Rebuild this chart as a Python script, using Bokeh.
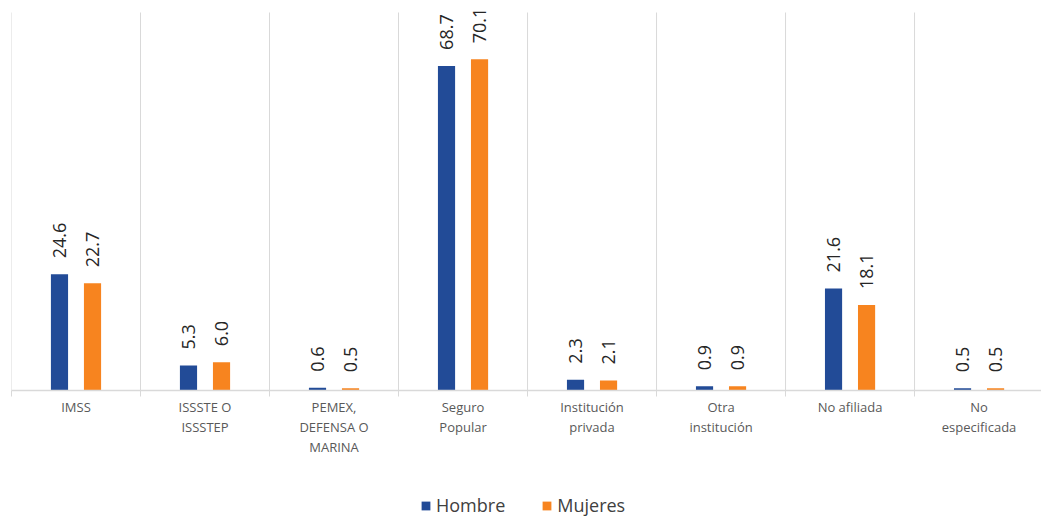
from math import pi
from bokeh.plotting import figure
from bokeh.layouts import column
from bokeh.models import ColumnDataSource, FixedTicker, Range1d, Legend, LegendItem
from bokeh.core.properties import value
from bokeh.embed import file_html
from bokeh.resources import INLINE

categories = ["IMSS", "ISSSTE O\nISSSTEP", "PEMEX,\nDEFENSA O\nMARINA", "Seguro\nPopular",
              "Institución\nprivada", "Otra\ninstitución", "No afiliada", "No\nespecificada"]
hombre = [24.6, 5.3, 0.6, 68.7, 2.3, 0.9, 21.6, 0.5]
mujeres = [22.7, 6.0, 0.5, 70.1, 2.1, 0.9, 18.1, 0.5]
series_names = ["Hombre", "Mujeres"]

BLUE = "#224B97"
ORANGE = "#F7841F"
GRID = "#D9D9D9"
FONT = "Open Sans"

n = len(categories)
centers = [i + 0.5 for i in range(n)]
bounds = list(range(n + 1))
off = 0.128
bw = 0.133
AXIS_MAX = 80

p = figure(frame_width=1030, frame_height=390, output_backend="svg", toolbar_location=None,
           x_range=Range1d(0, 7.984), y_range=Range1d(0, AXIS_MAX * 390 / 378),
           min_border_left=11, min_border_right=0, min_border_top=0, min_border_bottom=0)
p.outline_line_color = None
p.background_fill_color = "white"
p.border_fill_color = "white"

# vertical category separators (gridlines) up to the axis maximum
p.segment(x0=bounds, y0=[0] * len(bounds), x1=bounds, y1=[AXIS_MAX] * len(bounds),
          line_color=GRID, line_width=1)

src_h = ColumnDataSource(dict(x=[c - off for c in centers], y=hombre,
                              t=[f"{v:.1f}" for v in hombre]))
src_m = ColumnDataSource(dict(x=[c + off for c in centers], y=mujeres,
                              t=[f"{v:.1f}" for v in mujeres]))

rh = p.vbar(x="x", top="y", width=bw, bottom=0, source=src_h, fill_color=BLUE, line_color=None)
rm = p.vbar(x="x", top="y", width=bw, bottom=0, source=src_m, fill_color=ORANGE, line_color=None)

for src in (src_h, src_m):
    p.text(x="x", y="y", text="t", source=src, angle=pi / 2, text_align="left",
           text_baseline="middle", y_offset=-16, text_font=value(FONT),
           text_font_size="18px", text_color="#262626")

p.yaxis.visible = False
p.ygrid.visible = False
p.xgrid.visible = False

ax = p.xaxis[0]
ax.ticker = FixedTicker(ticks=centers, minor_ticks=bounds)
ax.major_label_overrides = {c: lab for c, lab in zip(centers, categories)}
ax.axis_line_color = GRID
ax.axis_line_width = 1.5
ax.major_tick_line_color = None
ax.major_tick_out = 0
ax.major_tick_in = 0
ax.minor_tick_line_color = GRID
ax.minor_tick_out = 6
ax.minor_tick_in = 0
ax.major_label_standoff = 1
ax.major_label_text_font = FONT
ax.major_label_text_font_size = "13px"
ax.major_label_text_color = "#595959"
ax.major_label_text_line_height = 1.13

# legend figure
lg = figure(frame_width=1041, frame_height=58, output_backend="svg", toolbar_location=None,
            x_range=Range1d(0, 1), y_range=Range1d(0, 1),
            min_border_left=0, min_border_right=0, min_border_top=0, min_border_bottom=0)
lg.outline_line_color = None
lg.axis.visible = False
lg.grid.visible = False
dh = lg.vbar(x=[5], top=[5], bottom=[4], width=0.1, fill_color=BLUE, line_color=None)
dm = lg.vbar(x=[5], top=[5], bottom=[4], width=0.1, fill_color=ORANGE, line_color=None)
legend = Legend(items=[LegendItem(label=series_names[0], renderers=[dh]),
                       LegendItem(label=series_names[1], renderers=[dm])],
                orientation="horizontal", location="bottom_left",
                label_text_font=FONT, label_text_font_size="18px",
                label_text_color="#404040", glyph_width=11, glyph_height=11,
                border_line_color=None, background_fill_alpha=0,
                spacing=36, label_standoff=5, margin=0, padding=2)
legend.location = (420, 0)
lg.add_layout(legend, "center")

open("out.html", "w").write(file_html(column(p, lg, spacing=0), INLINE))
